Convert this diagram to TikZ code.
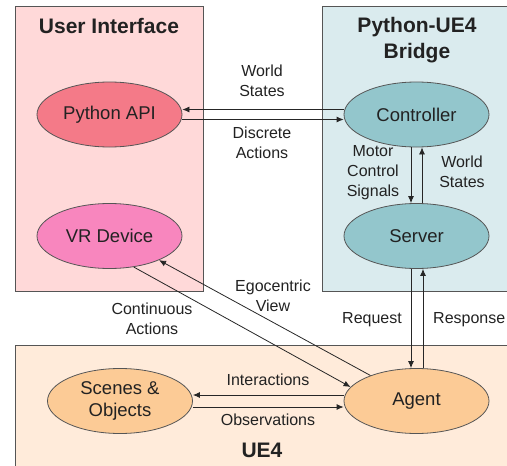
\documentclass[tikz,border=0pt]{standalone}
\usepackage{fontspec}
\setmainfont{Liberation Sans}
\usetikzlibrary{arrows.meta,calc,shapes.geometric}
\definecolor{uibg}{HTML}{FFD9D9}
\definecolor{apifill}{HTML}{F47A88}
\definecolor{vrfill}{HTML}{F886BE}
\definecolor{brbg}{HTML}{DAEBEE}
\definecolor{brfill}{HTML}{93C6CC}
\definecolor{uebg}{HTML}{FFEBDA}
\definecolor{uefill}{HTML}{FCCB96}
\definecolor{edgec}{HTML}{555555}
\definecolor{txt}{HTML}{222222}
\tikzset{
  panel/.style={draw=edgec, line width=0.9pt},
  ell/.style={ellipse, draw=edgec, line width=0.8pt, minimum width=145pt, minimum height=65pt, inner sep=0pt, text=txt, font=\fontsize{18.5}{22}\selectfont, align=center},
  lbl/.style={text=txt, font=\fontsize{16}{20}\selectfont, align=center, inner sep=0pt},
  ttl/.style={text=txt, font=\fontsize{21}{26}\selectfont\bfseries, align=center, inner sep=0pt},
  arr/.style={draw=black!85, line width=0.8pt, -{Latex[length=7pt,width=6pt]}},
}
\begin{document}
\begin{tikzpicture}[x=1pt,y=-1pt]
\useasboundingbox (0,0) rectangle (507,466);
% panels
\draw[panel, fill=uibg] (15,6) rectangle (203,291);
\draw[panel, fill=brbg] (322,6) rectangle (512,291);
\draw[panel, fill=uebg] (15,345) rectangle (512,472);
% titles
\node[ttl] (tui) at (109,26) {User Interface};
\node[ttl] (tbr) at (417,40) {Python-UE4\\Bridge};
\node[ttl] (tue) at (262,450) {UE4};
% ellipses
\node[ell, fill=apifill] (api) at (109.5,114.5) {Python API};
\node[ell, fill=vrfill] (vr) at (109.5,236) {VR Device};
\node[ell, fill=brfill] (ctrl) at (416.5,114.5) {Controller};
\node[ell, fill=brfill] (srv) at (416.5,236) {Server};
\node[ell, fill=uefill] (scn) at (120,401) {Scenes \&\\Objects};
\node[ell, fill=uefill] (agt) at (416.5,401) {Agent};
% connectors
\draw[arr] ($(ctrl.west)+(0,-5)$) -- ($(api.east)+(0,-5)$);
\draw[arr] ($(api.east)+(0,5)$) -- ($(ctrl.west)+(0,5)$);
\draw[arr] ($(ctrl.south)+(-5.5,0)$) -- ($(srv.north)+(-5.5,0)$);
\draw[arr] ($(srv.north)+(5.5,0)$) -- ($(ctrl.south)+(5.5,0)$);
\draw[arr] ($(srv.south)+(-5.5,0)$) -- ($(agt.north)+(-5.5,0)$);
\draw[arr] ($(agt.north)+(6.5,0)$) -- ($(srv.south)+(6.5,0)$);
\draw[arr] (agt.151) -- (vr.334);
\draw[arr] (vr.308) -- (agt.168);
\draw[arr] ($(agt.west)+(0,-6)$) -- ($(scn.east)+(0,-6)$);
\draw[arr] ($(scn.east)+(0,6)$) -- ($(agt.west)+(0,6)$);
% labels
\node[lbl] (lws) at (262,81) {World\\States};
\node[lbl] (lda) at (262,143) {Discrete\\Actions};
\node[lbl] (lmc) at (373,173) {Motor\\Control\\Signals};
\node[lbl] (lws2) at (462,172) {World\\States};
\node[lbl] (lego) at (273,296) {Egocentric\\View};
\node[lbl] (lca) at (152,319) {Continuous\\Actions};
\node[lbl] (lreq) at (372,320) {Request};
\node[lbl, anchor=west] (lresp) at (433,320) {Response};
\node[lbl] (lint) at (268,380) {Interactions};
\node[lbl] (lobs) at (268,420) {Observations};
\end{tikzpicture}
\end{document}
